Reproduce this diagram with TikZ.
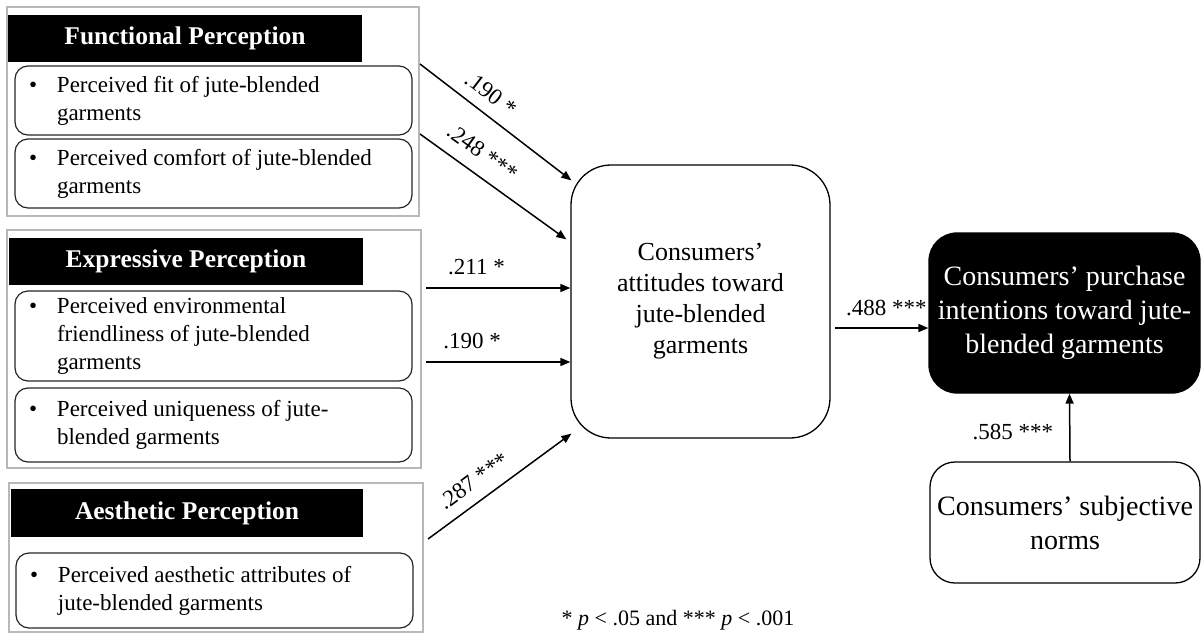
\documentclass[tikz,border=0pt]{standalone}
\usepackage{fontspec}
\setmainfont{Liberation Serif}
\usetikzlibrary{arrows.meta,calc}
\newcommand\fsItem{\fontsize{23}{28}\selectfont}
\newcommand\fsHead{\bfseries\fontsize{25.5}{30}\selectfont}
\newcommand\fsMid{\fontsize{26}{31}\selectfont}
\newcommand\fsBig{\fontsize{28}{34}\selectfont}
\newcommand\fsLab{\fontsize{23}{27}\selectfont}
\newcommand\itm[1]{\begin{tabular}{@{}p{28pt}@{}p{341pt}@{}}\textbullet & #1\end{tabular}}
\begin{document}
\begin{tikzpicture}[x=1pt,y=-1pt,
  obox/.style={draw=black!28, line width=1.3pt, inner sep=0pt},
  hbox/.style={fill=black, text=white, inner sep=0pt, font=\fsHead},
  ibox/.style={draw=black!85, line width=1.2pt, rounded corners=13pt, inner sep=0pt, font=\fsItem},
  rbox/.style={draw=black, line width=1.3pt, inner sep=0pt, align=center},
  arr/.style={line width=1.5pt, -{Triangle[length=10pt,width=8pt]}},
  lab/.style={font=\fsLab, inner sep=2pt}
]
\useasboundingbox (0,0) rectangle (1201,643);

% Functional
\node[obox, minimum width=412pt, minimum height=209pt] (fo) at (213,111.5) {};
\node[hbox, minimum width=354pt, minimum height=47pt] (fh) at (185,38.5) {Functional Perception};
\node[ibox, minimum width=397pt, minimum height=69pt] (fa) at (213.5,100.5) {\itm{Perceived fit of jute-blended\newline garments}};
\node[ibox, minimum width=397pt, minimum height=69pt] (fb) at (213.5,173.5) {\itm{Perceived comfort of jute-blended\newline garments}};

% Expressive
\node[obox, minimum width=414pt, minimum height=238pt] (eo) at (214,349) {};
\node[hbox, minimum width=354pt, minimum height=47pt] (eh) at (186,261.5) {Expressive Perception};
\node[ibox, minimum width=397pt, minimum height=90pt] (ea) at (213.5,336) {\itm{Perceived environmental\newline friendliness of jute-blended\newline garments}};
\node[ibox, minimum width=397pt, minimum height=74pt] (eb) at (213.5,425) {\itm{Perceived uniqueness of jute-\newline blended garments}};

% Aesthetic
\node[obox, minimum width=414pt, minimum height=149pt] (ao) at (216,557.5) {};
\node[hbox, minimum width=352pt, minimum height=48pt] (ah) at (187,513) {Aesthetic Perception};
\node[ibox, minimum width=397pt, minimum height=75pt] (aa) at (214.5,590.5) {\itm{Perceived aesthetic attributes of\newline jute-blended garments}};

% Central and right boxes
\node[rbox, rounded corners=40pt, minimum width=259pt, minimum height=273pt, font=\fsMid] (att) at (700.5,301.5) {Consumers’\\attitudes toward\\jute-blended\\garments};
\node[rbox, fill=black, text=white, rounded corners=28pt, minimum width=271pt, minimum height=160pt, font=\fsBig] (pi) at (1064.5,313) {Consumers’ purchase\\intentions toward jute-\\blended garments};
\node[rbox, rounded corners=25pt, minimum width=270pt, minimum height=121pt, font=\fsBig] (sn) at (1065,522.5) {Consumers’ subjective\\norms};

% connector start points
\coordinate (s1) at (420,64);
\coordinate (s2) at (420,134);
\coordinate (s3) at (426,288);
\coordinate (s4) at (426,362);
\coordinate (s5) at (428,539);
\coordinate (s6) at (835,328);

\draw[arr] (s1) -- node[lab, sloped, above=9pt, pos=0.39] {.190 *} ($(att.north west)+(1,16)$);
\draw[arr] (s2) -- node[lab, sloped, above=11pt, pos=0.34] {.248 ***} ($(att.north west)+(-4,75)$);
\draw[arr] (s3) -- node[lab, above=10pt, pos=0.35] {.211 *} (s3 -| att.west);
\draw[arr] (s4) -- node[lab, above=10pt, pos=0.32] {.190 *} (s4 -| att.west);
\draw[arr] (s5) -- node[lab, sloped, above=9pt, pos=0.40] {.287 ***} ($(att.south west)+(1,-5)$);
\draw[arr] (s6) -- node[lab, above=9pt, pos=0.55] {.488 ***} (s6 -| pi.west);
\draw[arr] ($(sn.north)+(5,0)$) -- node[lab, left=14pt, pos=0.44] {.585 ***} ($(pi.south)+(5,0)$);

\node[font=\fontsize{22}{26}\selectfont, inner sep=0pt] (note) at (678,620) {* \textit{p} < .05 and *** \textit{p} < .001};
\end{tikzpicture}
\end{document}
